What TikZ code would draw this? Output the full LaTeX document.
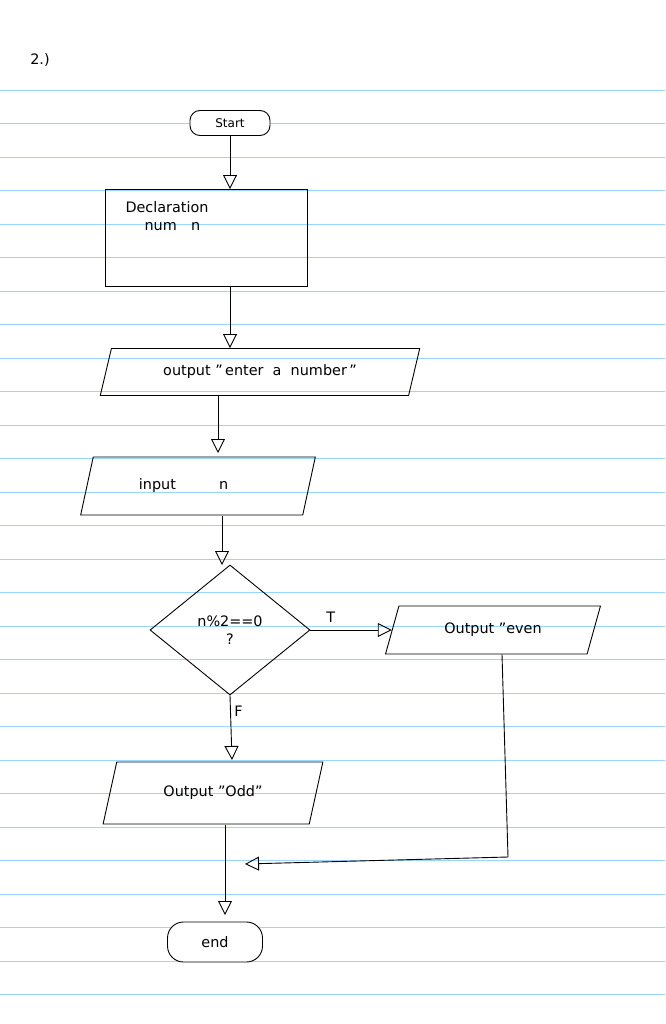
\documentclass[tikz,border=0pt]{standalone}
\usepackage{fontspec}
\setmainfont{DejaVu Sans}
\usetikzlibrary{arrows.meta,shapes.geometric}
\begin{document}
\begin{tikzpicture}[x=1pt,y=-1pt,
  ln/.style={line width=0.9pt,black},
  arr/.style={ln,-{Triangle[open,length=14pt,width=14pt]}},
  term/.style={draw,ln,rounded corners=10pt,font=\large},
  para/.style={draw,ln,trapezium,trapezium stretches=true,trapezium left angle=70,trapezium right angle=110,font=\Large},
  lbl/.style={font=\Large}]
\useasboundingbox (0,0) rectangle (665,1024);
\fill[white] (0,0) rectangle (665,1024);
\foreach \i in {0,...,27}{\draw[blue!40!cyan!40,line width=0.8pt] (0,{90+33.5*\i}) -- (665,{90+33.5*\i});}
\node[lbl] (num) at (40,60) {2.)};
\node[term,fill=white,minimum width=80pt,minimum height=25pt] (start) at (230,123) {Start};
\node[draw,ln,minimum width=202pt,minimum height=97pt] (decl) at (206,238) {};
\node[lbl,align=left,anchor=north west] (decltxt) at (122,198) {Declaration\\\quad\ num\quad n};
\node[para,minimum width=320pt,minimum height=47pt] (out1) at (260,372) {output "\,enter\ \ a\ \ number\,"};
\node[para,minimum width=235pt,minimum height=58pt] (inp) at (198,486) {input\qquad\quad n\qquad\quad};
\node[draw,ln,diamond,minimum width=160pt,minimum height=130pt,aspect=1.2,align=center,font=\Large] (dec) at (230,630) {n\%2==0\\?};
\node[para,minimum width=215pt,minimum height=48pt] (even) at (493,630) {Output "even};
\node[para,minimum width=220pt,minimum height=62pt] (odd) at (213,793) {Output "Odd"};
\node[term,fill=white,minimum width=95pt,minimum height=40pt,rounded corners=16pt,font=\Large] (end) at (215,942) {end};
\coordinate (c2) at (230,340);
\coordinate (c4) at (222,565);
\coordinate (c6) at (225,915);
\coordinate (c7) at (508,857);
\coordinate (c8) at (245,864);
\draw[arr] (start.south) -- (start.south |- decl.north);
\draw[arr] (decl.south -| c2) -- (c2 |- out1.north);
\draw[arr] (218,396) -- (218,453);
\draw[arr] (222,516) -- (c4);
\draw[arr] (dec.east) -- node[lbl,above,pos=0.25,yshift=4pt] {T} (dec.east -| even.west);
\draw[arr] (dec.south) -- node[lbl,right,pos=0.25] {F} (232,760);
\draw[arr] (225,825) -- (c6);
\draw[arr] (even.south -| 502,0) -- (c7) -- (c8);
\end{tikzpicture}
\end{document}
